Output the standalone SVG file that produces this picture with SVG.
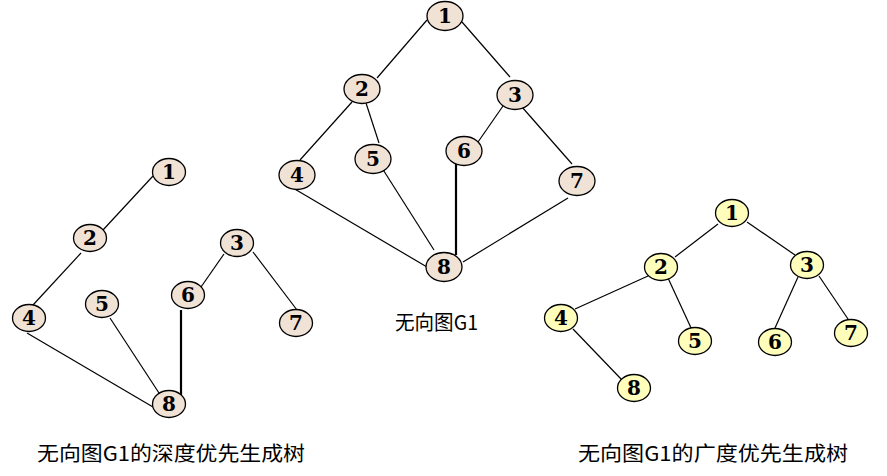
<svg xmlns="http://www.w3.org/2000/svg" width="887" height="476" viewBox="0 0 887 476">
<style>
.n ellipse{stroke:#000;stroke-width:1.3}
.g ellipse{fill:#f1e2d6}
.y ellipse{fill:#ffffbb}
#edges line{stroke:#000;stroke-width:1.2}
#edges line.thick{stroke-width:2.2}
</style>
<rect width="887" height="476" fill="#fff"/>
<g id="edges">
<line x1="427" y1="20" x2="377" y2="78"/>
<line x1="462" y1="22" x2="510" y2="77"/>
<line x1="352" y1="102" x2="300" y2="160"/>
<line x1="366" y1="103" x2="379" y2="143"/>
<line x1="503" y1="106" x2="478" y2="142"/>
<line x1="522" y1="107" x2="572" y2="164"/>
<line x1="293" y1="188" x2="427" y2="267"/>
<line x1="382" y1="168" x2="434" y2="250"/>
<line class="thick" x1="456" y1="164" x2="456" y2="255"/>
<line x1="568" y1="198" x2="463" y2="262"/>
<line x1="153" y1="176" x2="103" y2="230"/>
<line x1="81" y1="253" x2="33" y2="305"/>
<line x1="224" y1="254" x2="201" y2="287"/>
<line x1="253" y1="252" x2="297" y2="310"/>
<line x1="27" y1="333" x2="153" y2="407"/>
<line x1="110" y1="318" x2="159" y2="393"/>
<line class="thick" x1="181" y1="310" x2="181" y2="395"/>
<line x1="718" y1="224" x2="675" y2="257"/>
<line x1="747" y1="222" x2="795" y2="255"/>
<line x1="648" y1="276" x2="575" y2="309"/>
<line x1="668" y1="278" x2="692" y2="330"/>
<line x1="798" y1="277" x2="775" y2="328"/>
<line x1="819" y1="276" x2="850" y2="322"/>
<line x1="573" y1="329" x2="622" y2="380"/>
</g>
<g id="nodes" font-family="DejaVu Serif, serif" font-weight="bold" font-size="20" text-anchor="middle" fill="#000">
<g id="g1-1" class="n g"><ellipse cx="445" cy="16" rx="18" ry="14.5"/><text x="445" y="23">1</text></g>
<g id="g1-2" class="n g"><ellipse cx="362" cy="89" rx="18" ry="14.5"/><text x="362" y="96">2</text></g>
<g id="g1-3" class="n g"><ellipse cx="515" cy="95" rx="18" ry="14.5"/><text x="515" y="102">3</text></g>
<g id="g1-4" class="n g"><ellipse cx="297" cy="175" rx="18" ry="14.5"/><text x="297" y="182">4</text></g>
<g id="g1-5" class="n g"><ellipse cx="373" cy="159" rx="18" ry="14.5"/><text x="373" y="166">5</text></g>
<g id="g1-6" class="n g"><ellipse cx="464" cy="151" rx="18" ry="14.5"/><text x="464" y="158">6</text></g>
<g id="g1-7" class="n g"><ellipse cx="577" cy="181" rx="18" ry="14.5"/><text x="577" y="188">7</text></g>
<g id="g1-8" class="n g"><ellipse cx="444" cy="267" rx="18" ry="14.5"/><text x="444" y="274">8</text></g>
<g id="dfs-1" class="n g"><ellipse cx="169" cy="172" rx="16.5" ry="13.5"/><text x="169" y="179">1</text></g>
<g id="dfs-2" class="n g"><ellipse cx="90" cy="238" rx="16.5" ry="13.5"/><text x="90" y="245">2</text></g>
<g id="dfs-3" class="n g"><ellipse cx="237" cy="243" rx="16.5" ry="13.5"/><text x="237" y="250">3</text></g>
<g id="dfs-4" class="n g"><ellipse cx="29" cy="318" rx="16.5" ry="13.5"/><text x="29" y="325">4</text></g>
<g id="dfs-5" class="n g"><ellipse cx="102" cy="304" rx="16.5" ry="13.5"/><text x="102" y="311">5</text></g>
<g id="dfs-6" class="n g"><ellipse cx="188" cy="295" rx="16.5" ry="13.5"/><text x="188" y="302">6</text></g>
<g id="dfs-7" class="n g"><ellipse cx="296" cy="323" rx="16.5" ry="13.5"/><text x="296" y="330">7</text></g>
<g id="dfs-8" class="n g"><ellipse cx="169" cy="404" rx="16.5" ry="13.5"/><text x="169" y="411">8</text></g>
<g id="bfs-1" class="n y"><ellipse cx="732" cy="213" rx="16.5" ry="13.5"/><text x="732" y="220">1</text></g>
<g id="bfs-2" class="n y"><ellipse cx="661" cy="267" rx="16.5" ry="13.5"/><text x="661" y="274">2</text></g>
<g id="bfs-3" class="n y"><ellipse cx="807" cy="265" rx="16.5" ry="13.5"/><text x="807" y="272">3</text></g>
<g id="bfs-4" class="n y"><ellipse cx="561" cy="318" rx="16.5" ry="13.5"/><text x="561" y="325">4</text></g>
<g id="bfs-5" class="n y"><ellipse cx="695" cy="341" rx="16.5" ry="13.5"/><text x="695" y="348">5</text></g>
<g id="bfs-6" class="n y"><ellipse cx="775" cy="342" rx="16.5" ry="13.5"/><text x="775" y="349">6</text></g>
<g id="bfs-7" class="n y"><ellipse cx="851" cy="333" rx="16.5" ry="13.5"/><text x="851" y="340">7</text></g>
<g id="bfs-8" class="n y"><ellipse cx="634" cy="388" rx="16.5" ry="13.5"/><text x="634" y="395">8</text></g>
</g>
<g id="labels" font-family="Noto Sans CJK SC, sans-serif" font-size="20" fill="#000">
<text x="395" y="330" textLength="83" lengthAdjust="spacingAndGlyphs">无向图G1</text>
<text x="37" y="461" textLength="268" lengthAdjust="spacingAndGlyphs">无向图G1的深度优先生成树</text>
<text x="578" y="461" textLength="270" lengthAdjust="spacingAndGlyphs">无向图G1的广度优先生成树</text>
</g>
</svg>
